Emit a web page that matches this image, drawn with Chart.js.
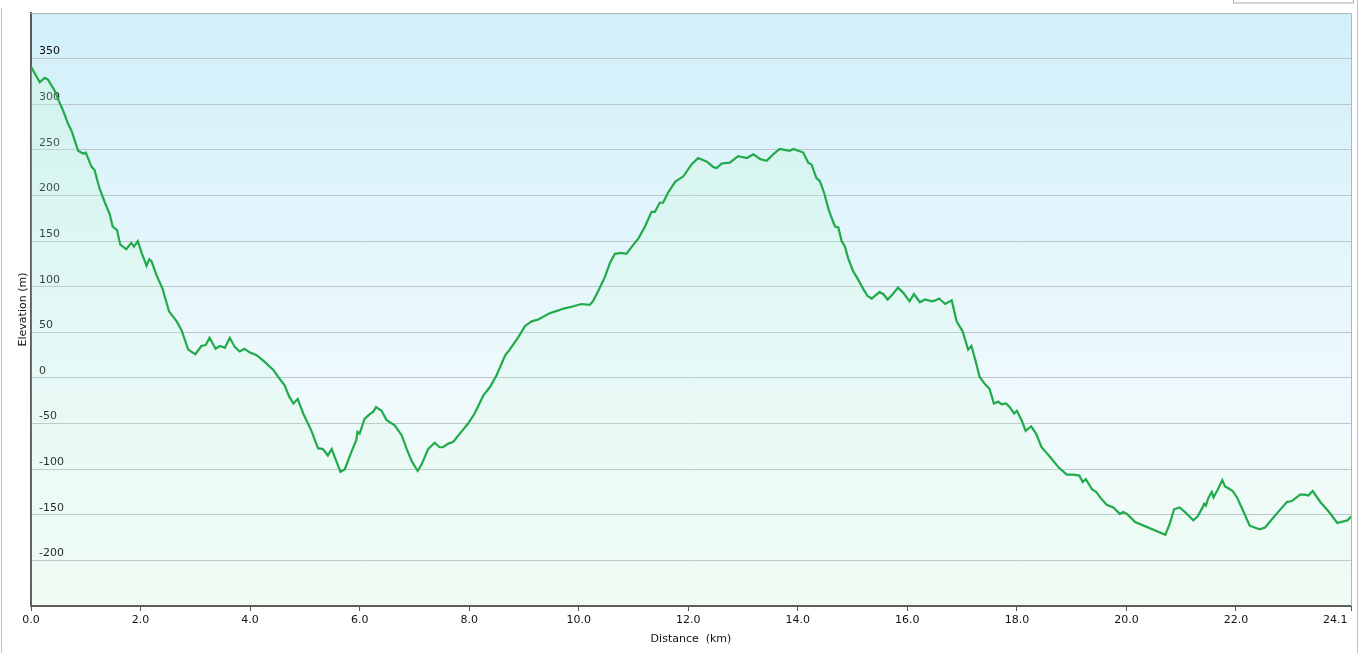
<!DOCTYPE html>
<html>
<head>
<meta charset="utf-8">
<script src="https://cdn.jsdelivr.net/npm/chart.js@4.4.0/dist/chart.umd.min.js"></script>
<style>
  html, body { margin: 0; padding: 0; background: #ffffff; }
  #wrap { width: 1360px; height: 653px; position: relative; }
</style>
</head>
<body>
<div id="wrap"><canvas id="c" width="1360" height="653"></canvas></div>
<script>
// Distance along the route (km)
const distances = [
  0.00, 0.16, 0.25, 0.31, 0.43, 0.52, 0.58, 0.68, 0.74, 0.86,
  0.95, 1.00, 1.10, 1.16, 1.25, 1.35, 1.44, 1.49, 1.57, 1.63,
  1.74, 1.83, 1.88, 1.95, 2.02, 2.11, 2.16, 2.20, 2.29, 2.40,
  2.52, 2.66, 2.75, 2.87, 3.00, 3.11, 3.19, 3.26, 3.37, 3.45,
  3.54, 3.63, 3.72, 3.81, 3.90, 3.99, 4.12, 4.24, 4.42, 4.54,
  4.63, 4.71, 4.79, 4.87, 4.97, 5.12, 5.24, 5.33, 5.42, 5.49,
  5.58, 5.65, 5.73, 5.85, 5.94, 5.96, 6.00, 6.09, 6.18, 6.25,
  6.30, 6.40, 6.49, 6.64, 6.77, 6.86, 6.95, 7.06, 7.13, 7.25,
  7.37, 7.46, 7.52, 7.62, 7.71, 7.83, 7.98, 8.10, 8.26, 8.38,
  8.50, 8.66, 8.74, 8.90, 9.02, 9.14, 9.26, 9.47, 9.63, 9.72,
  9.87, 10.05, 10.20, 10.26, 10.37, 10.48, 10.57, 10.66, 10.78, 10.87,
  10.97, 11.09, 11.21, 11.33, 11.39, 11.48, 11.54, 11.63, 11.76, 11.91,
  12.06, 12.18, 12.34, 12.46, 12.52, 12.61, 12.76, 12.91, 13.07, 13.19,
  13.31, 13.43, 13.55, 13.67, 13.76, 13.85, 13.92, 14.01, 14.10, 14.19,
  14.25, 14.34, 14.40, 14.48, 14.56, 14.62, 14.68, 14.74, 14.80, 14.86,
  14.92, 15.01, 15.10, 15.20, 15.27, 15.35, 15.49, 15.56, 15.64, 15.72,
  15.83, 15.93, 16.04, 16.12, 16.23, 16.32, 16.45, 16.51, 16.58, 16.69,
  16.81, 16.90, 17.01, 17.11, 17.17, 17.24, 17.32, 17.42, 17.50, 17.58,
  17.66, 17.72, 17.80, 17.87, 17.95, 18.00, 18.09, 18.16, 18.26, 18.35,
  18.45, 18.51, 18.61, 18.76, 18.91, 19.03, 19.14, 19.20, 19.26, 19.37,
  19.45, 19.52, 19.64, 19.76, 19.88, 19.94, 20.01, 20.16, 20.71, 20.79,
  20.87, 20.97, 21.07, 21.22, 21.30, 21.38, 21.42, 21.45, 21.50, 21.56,
  21.59, 21.68, 21.75, 21.80, 21.86, 21.94, 22.02, 22.14, 22.25, 22.43,
  22.53, 22.74, 22.93, 23.02, 23.17, 23.26, 23.32, 23.40, 23.54, 23.70,
  23.85, 23.98, 24.04, 24.10
];

// Elevation (m)
const elevations = [
  341, 324, 329, 327, 315, 302, 294, 278, 271, 249,
  246, 247, 232, 228, 208, 192, 179, 166, 162, 146,
  141, 148, 144, 150, 137, 123, 130, 128, 113, 98,
  73, 62, 52, 31, 26, 35, 36, 44, 32, 35,
  33, 44, 34, 29, 32, 28, 25, 19, 9, -1,
  -8, -20, -28, -23, -39, -58, -77, -78, -85, -78,
  -92, -103, -100, -81, -68, -59, -61, -45, -40, -37,
  -32, -36, -46, -52, -63, -78, -91, -102, -95, -78,
  -71, -76, -76, -72, -70, -61, -50, -39, -19, -10,
  3, 25, 31, 45, 57, 62, 64, 71, 74, 76,
  78, 81, 80, 84, 97, 111, 126, 136, 137, 136,
  144, 153, 166, 182, 182, 192, 192, 203, 215, 221,
  234, 241, 237, 231, 230, 235, 236, 243, 241, 245,
  240, 238, 245, 251, 250, 249, 251, 249, 247, 236,
  234, 219, 216, 203, 185, 175, 166, 165, 150, 144,
  131, 117, 108, 97, 90, 87, 94, 92, 86, 91,
  99, 93, 84, 92, 83, 86, 84, 85, 87, 81,
  85, 62, 51, 31, 35, 20, 1, -7, -12, -28,
  -26, -29, -28, -32, -39, -36, -47, -58, -53, -61,
  -76, -80, -87, -98, -106, -106, -107, -114, -111, -122,
  -125, -131, -139, -142, -149, -147, -149, -158, -172, -160,
  -144, -142, -147, -156, -152, -143, -138, -140, -131, -125,
  -131, -121, -112, -119, -121, -124, -131, -147, -162, -166,
  -164, -149, -136, -135, -128, -128, -129, -124, -136, -147,
  -159, -157, -156, -152
];

// Tick labels
const xTickValues = [0, 2, 4, 6, 8, 10, 12, 14, 16, 18, 20, 22, 24.1];
const yTickValues = [-250, -200, -150, -100, -50, 0, 50, 100, 150, 200, 250, 300, 350, 400];
const yLabelledValues = [-200, -150, -100, -50, 0, 50, 100, 150, 200, 250, 300, 350];
const xTitle = 'Distance  (km)';
const yTitle = 'Elevation (m)';

const points = distances.map((d, i) => ({ x: d, y: elevations[i] }));

const FONT = 'DejaVu Sans, Verdana, sans-serif';

const bgPlugin = {
  id: 'bgPlugin',
  beforeDraw(chart) {
    const { ctx, chartArea: a } = chart;
    ctx.save();
    const g = ctx.createLinearGradient(0, a.top, 0, a.bottom);
    g.addColorStop(0, '#d1eff9');
    g.addColorStop(0.6, '#edf9fd');
    g.addColorStop(1, '#f2fcf6');
    ctx.fillStyle = g;
    ctx.fillRect(a.left, a.top, a.right - a.left, a.bottom - a.top);
    ctx.restore();
  },
  afterDraw(chart) {
    const { ctx, chartArea: a } = chart;
    ctx.save();
    ctx.strokeStyle = '#b4b4b4';
    ctx.lineWidth = 1;
    ctx.beginPath();
    ctx.moveTo(a.left, a.top + 0.5);
    ctx.lineTo(a.right + 0.5, a.top + 0.5);
    ctx.lineTo(a.right + 0.5, a.bottom);
    ctx.stroke();
    // outer frame
    ctx.strokeStyle = '#c0c0c0';
    ctx.beginPath();
    ctx.moveTo(1.5, 8); ctx.lineTo(1.5, 653);
    ctx.moveTo(1357.5, 0); ctx.lineTo(1357.5, 653);
    ctx.stroke();
    ctx.strokeStyle = '#a8a8a8';
    ctx.strokeRect(1233.5, -2, 120, 5);
    ctx.restore();
  }
};

function fillGradient(context) {
  const a = context.chart.chartArea;
  if (!a) return 'rgba(200,250,210,0.15)';
  const g = context.chart.ctx.createLinearGradient(0, a.top, 0, a.bottom);
  g.addColorStop(0, 'rgba(200,250,210,0.32)');
  g.addColorStop(1, 'rgba(200,250,210,0.06)');
  return g;
}

new Chart(document.getElementById('c'), {
  type: 'line',
  data: {
    datasets: [{
      data: points,
      borderColor: '#20aa4a',
      borderWidth: 2.2,
      backgroundColor: fillGradient,
      fill: 'start',
      pointRadius: 0,
      tension: 0
    }]
  },
  options: {
    responsive: false,
    animation: false,
    layout: { padding: { top: 13, right: 9, left: 0, bottom: 0 } },
    plugins: { legend: { display: false }, tooltip: { enabled: false } },
    scales: {
      x: {
        type: 'linear',
        min: 0,
        max: 24.1,
        afterFit(scale) { scale.height = 47; scale.paddingLeft = 0; scale.paddingRight = 0; },
        afterBuildTicks(scale) { scale.ticks = xTickValues.map(v => ({ value: v })); },
        ticks: {
          color: '#111',
          font: { family: FONT, size: 11 },
          padding: 3,
          maxRotation: 0,
          autoSkip: false,
          callback: (v, i, arr) => {
            const s = Number(v).toFixed(1);
            return i === arr.length - 1 ? s + '\u00a0'.repeat(9) : s;
          }
        },
        grid: { drawOnChartArea: false, drawTicks: true, tickLength: 5, tickColor: '#555', tickWidth: 1 },
        border: { display: true, color: '#5a5a5a', width: 2 },
        title: { display: true, text: xTitle, color: '#111', font: { family: FONT, size: 11 }, padding: { top: 0, bottom: 7 } }
      },
      y: {
        min: -250,
        max: 400,
        afterFit(scale) { scale.width = 31; scale.paddingTop = 0; scale.paddingBottom = 0; },
        afterBuildTicks(scale) { scale.ticks = yTickValues.map(v => ({ value: v })); },
        ticks: {
          mirror: true,
          padding: 8,
          labelOffset: -7,
          color: '#111',
          font: { family: FONT, size: 11 },
          callback: (v) => yLabelledValues.includes(v) ? String(v) : ''
        },
        grid: { color: '#bcc6ca', lineWidth: 1, drawTicks: false },
        border: { display: true, color: '#5a5a5a', width: 2 },
        title: { display: true, text: yTitle, color: '#111', font: { family: FONT, size: 11 }, padding: { top: 17, bottom: 0 } }
      }
    }
  },
  plugins: [bgPlugin]
});
</script>
</body>
</html>
